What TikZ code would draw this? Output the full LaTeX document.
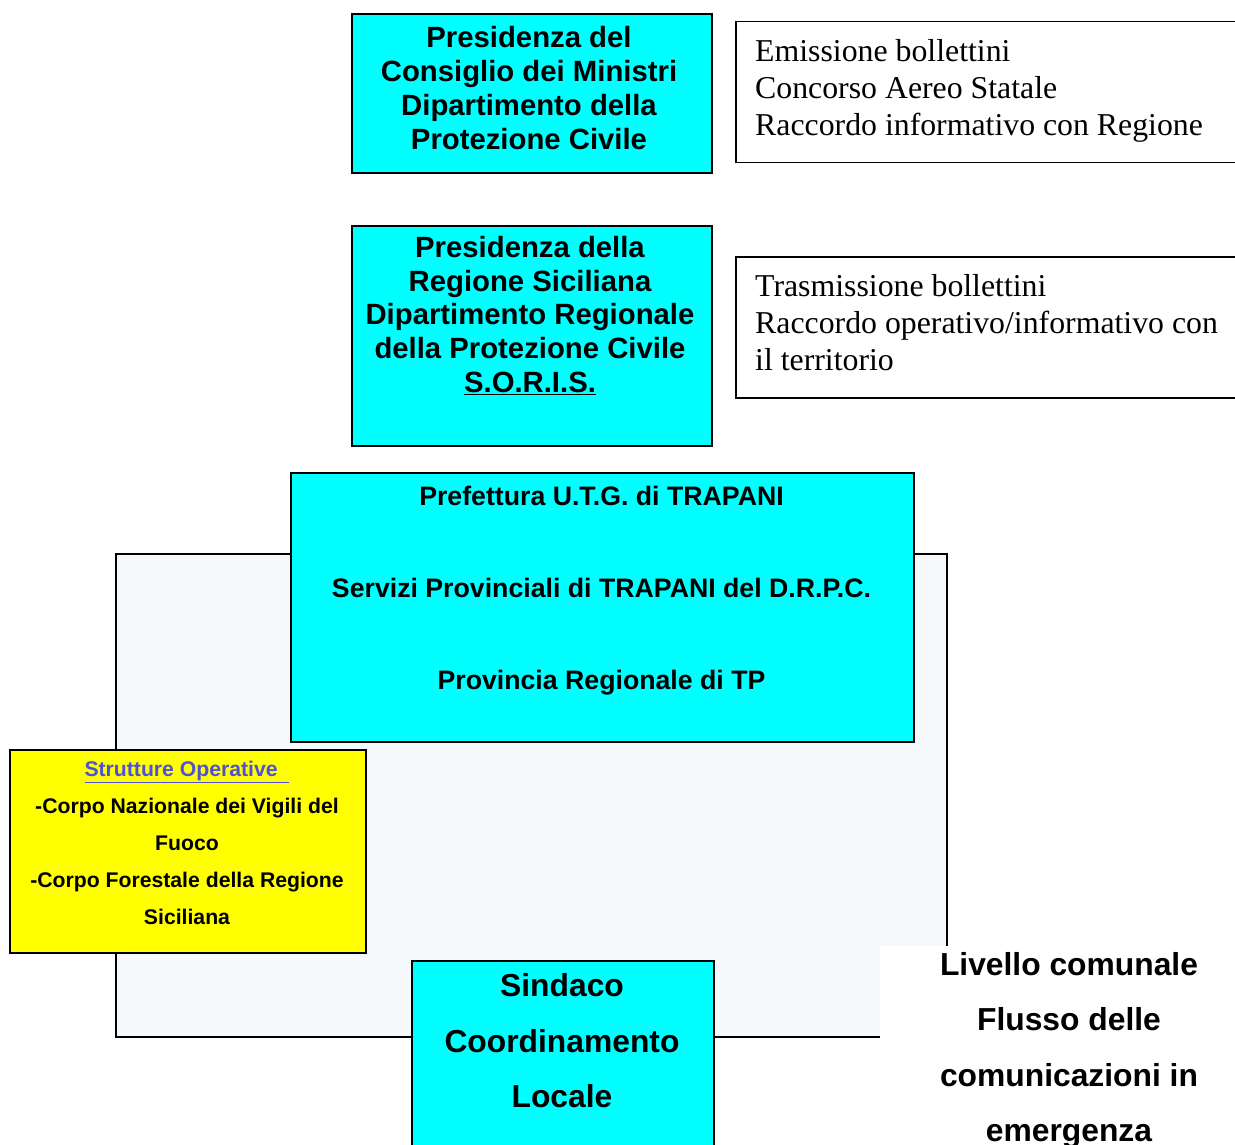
\documentclass[tikz,border=0pt]{standalone}
\usepackage{fontspec}
\setmainfont{Liberation Serif}
\setsansfont{Liberation Sans}
\usetikzlibrary{positioning}
\definecolor{boxcyan}{RGB}{0,255,255}
\definecolor{boxyellow}{RGB}{255,255,0}
\definecolor{areagray}{RGB}{246,249,251}
\definecolor{linkblue}{RGB}{80,80,215}

\tikzset{
  ente/.style={draw, rectangle, fill=boxcyan, line width=1.8pt, inner sep=0pt},
  compito/.style={draw, rectangle, fill=white, line width=1.5pt, inner sep=0pt},
  testo/.style={font=\sffamily\bfseries, align=center, inner sep=0pt, anchor=base},
  nota/.style={font=\rmfamily\fontsize{31.8}{37}\selectfont, align=left, inner sep=0pt, anchor=base west}
}

\begin{document}
\begin{tikzpicture}[x=1pt, y=-1pt]
    \useasboundingbox (0,0) rectangle (1235,1145);

    % Area provinciale
    \node[draw, rectangle, fill=areagray, line width=1.5pt, minimum width=831pt, minimum height=483pt, anchor=north west] (area) at (115,553) {};

    % Livello nazionale
    \node[ente, minimum width=360pt, minimum height=159pt, anchor=north west] (dpc) at (351,13) {};
    \node[testo, font=\sffamily\bfseries\fontsize{29.3}{34}\selectfont] (dpcText) at (529,149.3)
        {Presidenza del\\Consiglio dei Ministri\\Dipartimento della\\Protezione Civile};
    \node[compito, minimum width=520pt, minimum height=141pt, anchor=north west] (dpcNota) at (735,21) {};
    \node[nota] (dpcNotaText) at (755,135.7)
        {Emissione bollettini\\Concorso Aereo Statale\\Raccordo informativo con Regione};

    % Livello regionale
    \node[ente, minimum width=360pt, minimum height=220pt, anchor=north west] (drpc) at (351,225) {};
    \node[testo, font=\sffamily\bfseries\fontsize{29.3}{33.8}\selectfont] (drpcText) at (530,392.5)
        {Presidenza della\\Regione Siciliana\\Dipartimento Regionale\\della Protezione Civile\\\underline{S.O.R.I.S.}};
    \node[compito, minimum width=520pt, minimum height=141pt, anchor=north west] (drpcNota) at (735,256) {};
    \node[nota] (drpcNotaText) at (755,370.5)
        {Trasmissione bollettini\\Raccordo operativo/informativo con\\il territorio};

    % Livello provinciale
    \node[ente, minimum width=623pt, minimum height=269pt, anchor=north west] (prefettura) at (290,472) {};
    \node[testo, font=\sffamily\bfseries\fontsize{26.7}{92}\selectfont] (prefetturaText) at (601.5,689)
        {Prefettura U.T.G. di TRAPANI\\Servizi Provinciali di TRAPANI del D.R.P.C.\\Provincia Regionale di TP};

    % Strutture operative
    \node[draw, rectangle, fill=boxyellow, line width=1.8pt, inner sep=0pt, minimum width=356pt, minimum height=203pt, anchor=north west] (strutture) at (9,749) {};
    \node[testo, font=\sffamily\bfseries\fontsize{21.2}{37}\selectfont] (struttureText) at (187,924.5)
        {\textcolor{linkblue}{\underline{Strutture Operative\ \ }}\\-Corpo Nazionale dei Vigili del\\Fuoco\\-Corpo Forestale della Regione\\Siciliana};

    % Livello comunale
    \node[ente, minimum width=302pt, minimum height=210pt, anchor=north west] (sindaco) at (411,960) {};
    \node[testo, font=\sffamily\bfseries\fontsize{31.8}{55.5}\selectfont] (sindacoText) at (562,1107.7)
        {Sindaco\\Coordinamento\\Locale};
    \node[fill=white, minimum width=360pt, minimum height=210pt, inner sep=0pt, anchor=north west] (livello) at (880,946) {};
    \node[testo, font=\sffamily\bfseries\fontsize{31.8}{55.5}\selectfont] (livelloText) at (1069,1141.5)
        {Livello comunale\\Flusso delle\\comunicazioni in\\emergenza};
\end{tikzpicture}
\end{document}
